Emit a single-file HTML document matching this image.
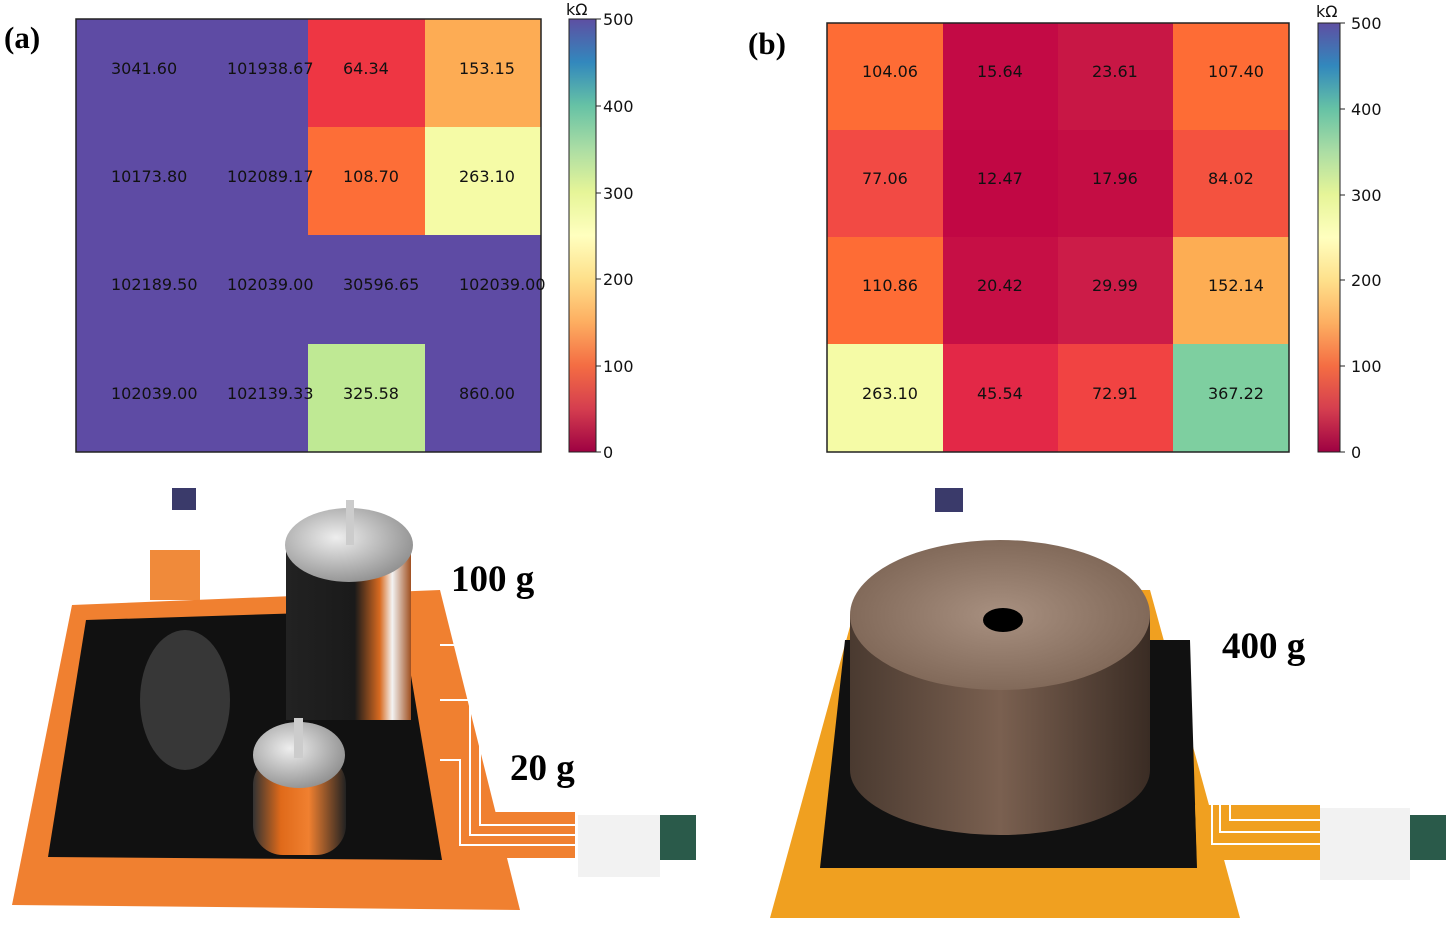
<!DOCTYPE html>
<html><head><meta charset="utf-8"><style>
body{margin:0;background:#fff}
svg{display:block}
.t{font-family:"DejaVu Sans","Liberation Sans",sans-serif;font-size:16px;fill:#111}
.k{font-family:"DejaVu Sans","Liberation Sans",sans-serif;font-size:16px;fill:#111}
.b{font-family:"Liberation Serif",serif;font-weight:bold;font-size:37px;fill:#000}
.lab{font-family:"Liberation Serif",serif;font-weight:bold;font-size:31px;fill:#000}
</style></head><body>
<svg width="1446" height="934" viewBox="0 0 1446 934">
<defs>
<linearGradient id="sp" x1="0" y1="1" x2="0" y2="0">
<stop offset="0" stop-color="#9e0142"/><stop offset="0.1" stop-color="#d53e4f"/>
<stop offset="0.2" stop-color="#f46d43"/><stop offset="0.3" stop-color="#fdae61"/>
<stop offset="0.4" stop-color="#fee08b"/><stop offset="0.5" stop-color="#ffffbf"/>
<stop offset="0.6" stop-color="#e6f598"/><stop offset="0.7" stop-color="#abdda4"/>
<stop offset="0.8" stop-color="#66c2a5"/><stop offset="0.9" stop-color="#3288bd"/>
<stop offset="1" stop-color="#5e4fa2"/></linearGradient>
<radialGradient id="met" cx="0.4" cy="0.4" r="0.7"><stop offset="0" stop-color="#eee"/><stop offset="1" stop-color="#888"/></radialGradient>
<linearGradient id="cyl" x1="0" x2="1"><stop offset="0" stop-color="#222"/><stop offset="0.55" stop-color="#1a1a1a"/><stop offset="0.75" stop-color="#d86a20"/><stop offset="0.85" stop-color="#f3f3f3"/><stop offset="1" stop-color="#a05020"/></linearGradient>
<linearGradient id="cyl2" x1="0" x2="1"><stop offset="0" stop-color="#333"/><stop offset="0.3" stop-color="#e06a1a"/><stop offset="0.6" stop-color="#f08030"/><stop offset="1" stop-color="#222"/></linearGradient>
<linearGradient id="puck" x1="0" x2="1"><stop offset="0" stop-color="#4a3a30"/><stop offset="0.5" stop-color="#7a6050"/><stop offset="1" stop-color="#3a2c24"/></linearGradient>
<radialGradient id="pucktop" cx="0.5" cy="0.5" r="0.6"><stop offset="0" stop-color="#a89080"/><stop offset="1" stop-color="#7a6252"/></radialGradient>
</defs>

<text class="lab" x="4" y="48">(a)</text>
<rect x="76" y="19" width="465" height="433" fill="#5e4ba4"/>
<rect x="308" y="19" width="117" height="108" fill="#ee3643"/>
<rect x="425" y="19" width="116" height="108" fill="#fdac54"/>
<rect x="308" y="127" width="117" height="108" fill="#fd6e37"/>
<rect x="425" y="127" width="116" height="108" fill="#f5fba6"/>
<rect x="308" y="344" width="117" height="108" fill="#bfe994"/>
<rect x="76" y="19" width="465" height="433" fill="none" stroke="#222" stroke-width="1.5"/>
<g class="t">
<text x="111" y="74">3041.60</text><text x="227" y="74">101938.67</text><text x="343" y="74">64.34</text><text x="459" y="74">153.15</text>
<text x="111" y="182">10173.80</text><text x="227" y="182">102089.17</text><text x="343" y="182">108.70</text><text x="459" y="182">263.10</text>
<text x="111" y="290">102189.50</text><text x="227" y="290">102039.00</text><text x="343" y="290">30596.65</text><text x="459" y="290">102039.00</text>
<text x="111" y="399">102039.00</text><text x="227" y="399">102139.33</text><text x="343" y="399">325.58</text><text x="459" y="399">860.00</text>
</g>
<rect x="569" y="19" width="27" height="433" fill="url(#sp)" stroke="#222"/>
<g stroke="#222"><line x1="596" y1="19" x2="601" y2="19"/><line x1="596" y1="106" x2="601" y2="106"/><line x1="596" y1="193" x2="601" y2="193"/><line x1="596" y1="279" x2="601" y2="279"/><line x1="596" y1="366" x2="601" y2="366"/><line x1="596" y1="452" x2="601" y2="452"/></g>
<g class="k"><text x="566" y="15">kΩ</text><text x="603" y="25">500</text><text x="603" y="112">400</text><text x="603" y="199">300</text><text x="603" y="285">200</text><text x="603" y="372">100</text><text x="603" y="458">0</text></g>

<text class="lab" x="748" y="54">(b)</text>
<g>
<rect x="827" y="23" width="116" height="107" fill="#fe6c35"/><rect x="943" y="23" width="115" height="107" fill="#c30a45"/><rect x="1058" y="23" width="115" height="107" fill="#c81745"/><rect x="1173" y="23" width="116" height="107" fill="#fe6c35"/>
<rect x="827" y="130" width="116" height="107" fill="#f24a44"/><rect x="943" y="130" width="115" height="107" fill="#c10744"/><rect x="1058" y="130" width="115" height="107" fill="#c40d44"/><rect x="1173" y="130" width="116" height="107" fill="#f4523f"/>
<rect x="827" y="237" width="116" height="107" fill="#fe6c35"/><rect x="943" y="237" width="115" height="107" fill="#c60f45"/><rect x="1058" y="237" width="115" height="107" fill="#cc1c48"/><rect x="1173" y="237" width="116" height="107" fill="#fdad53"/>
<rect x="827" y="344" width="116" height="108" fill="#f5fba6"/><rect x="943" y="344" width="115" height="108" fill="#e32847"/><rect x="1058" y="344" width="115" height="108" fill="#f14342"/><rect x="1173" y="344" width="116" height="108" fill="#7ecfa0"/>
</g>
<rect x="827" y="23" width="462" height="429" fill="none" stroke="#222" stroke-width="1.5"/>
<g class="t">
<text x="862" y="77">104.06</text><text x="977" y="77">15.64</text><text x="1092" y="77">23.61</text><text x="1208" y="77">107.40</text>
<text x="862" y="184">77.06</text><text x="977" y="184">12.47</text><text x="1092" y="184">17.96</text><text x="1208" y="184">84.02</text>
<text x="862" y="291">110.86</text><text x="977" y="291">20.42</text><text x="1092" y="291">29.99</text><text x="1208" y="291">152.14</text>
<text x="862" y="399">263.10</text><text x="977" y="399">45.54</text><text x="1092" y="399">72.91</text><text x="1208" y="399">367.22</text>
</g>
<rect x="1318" y="23" width="22" height="429" fill="url(#sp)" stroke="#222"/>
<g stroke="#222"><line x1="1340" y1="23" x2="1345" y2="23"/><line x1="1340" y1="109" x2="1345" y2="109"/><line x1="1340" y1="195" x2="1345" y2="195"/><line x1="1340" y1="280" x2="1345" y2="280"/><line x1="1340" y1="366" x2="1345" y2="366"/><line x1="1340" y1="452" x2="1345" y2="452"/></g>
<g class="k"><text x="1316" y="17">kΩ</text><text x="1351" y="29">500</text><text x="1351" y="115">400</text><text x="1351" y="201">300</text><text x="1351" y="286">200</text><text x="1351" y="372">100</text><text x="1351" y="458">0</text></g>

<!-- photo a -->
<rect x="172" y="488" width="24" height="22" fill="#3a3a6a"/>
<polygon points="150,550 200,550 200,600 150,600" fill="#f08a3a"/>
<polygon points="72,605 440,590 520,910 12,905" fill="#f08030"/>
<polygon points="86,620 400,610 442,860 48,857" fill="#111"/>
<ellipse cx="185" cy="700" rx="45" ry="70" fill="#666" opacity="0.45"/>
<polygon points="440,812 575,812 575,858 450,858" fill="#f08030"/>
<g stroke="#fff" stroke-width="2" fill="none"><polyline points="440,645 480,645 480,825 575,825"/><polyline points="440,700 470,700 470,835 575,835"/><polyline points="440,760 460,760 460,845 575,845"/></g>
<rect x="578" y="815" width="82" height="62" fill="#f2f2f2"/>
<rect x="660" y="815" width="36" height="45" fill="#2a5a4a"/>
<rect x="286" y="545" width="125" height="175" fill="url(#cyl)"/>
<ellipse cx="349" cy="545" rx="64" ry="37" fill="url(#met)"/>
<rect x="346" y="500" width="8" height="45" fill="#ccc"/>
<rect x="253" y="755" width="93" height="100" rx="30" fill="url(#cyl2)"/>
<ellipse cx="299" cy="755" rx="46" ry="33" fill="url(#met)"/>
<rect x="294" y="718" width="9" height="40" fill="#ccc"/>
<text class="b" x="451" y="591">100 g</text>
<text class="b" x="510" y="780">20 g</text>

<!-- photo b -->
<rect x="935" y="488" width="28" height="24" fill="#3a3a6a"/>
<polygon points="860,590 1150,590 1240,918 770,918" fill="#f0a020"/>
<polygon points="845,640 1190,640 1197,868 820,868" fill="#111"/>
<polygon points="1195,805 1320,805 1320,860 1197,860" fill="#f0a020"/>
<g stroke="#fff" stroke-width="2" fill="none"><polyline points="1197,680 1230,680 1230,820 1320,820"/><polyline points="1197,720 1220,720 1220,832 1320,832"/><polyline points="1197,760 1212,760 1212,844 1320,844"/></g>
<rect x="1320" y="808" width="90" height="72" fill="#f2f2f2"/>
<rect x="1410" y="815" width="36" height="45" fill="#2a5a4a"/>
<path d="M850,615 L850,770 A150,65 0 0 0 1150,770 L1150,615 Z" fill="url(#puck)"/>
<ellipse cx="1000" cy="615" rx="150" ry="75" fill="url(#pucktop)"/>
<ellipse cx="1003" cy="620" rx="20" ry="12" fill="#000"/>
<text class="b" x="1222" y="658">400 g</text>
</svg>
</body></html>
